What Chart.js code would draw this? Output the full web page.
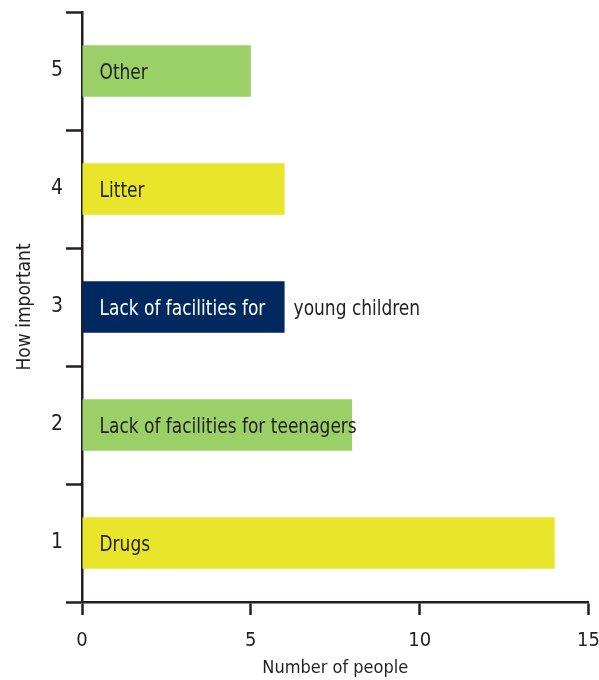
<!DOCTYPE html>
<html lang="en">
<head>
    <meta charset="UTF-8">
    <title>How important</title>
    <style>
        html, body { margin: 0; padding: 0; background: #fff; }
        .chart-box { width: 599px; height: 680px; }
    </style>
</head>
<body>

<div class="chart-box"><canvas id="importanceChart"></canvas></div>

<script src="https://cdn.jsdelivr.net/npm/chart.js"></script>
<script>
    // Ranking (5 = top) and number of people per issue
    const ranks = ['5', '4', '3', '2', '1'];
    const people = [5, 6, 6, 8, 14];
    // Text written on each bar; a second part is written just past the bar end
    const issueLabels = [
        ['Other'],
        ['Litter'],
        ['Lack of facilities for', 'young children'],
        ['Lack of facilities for teenagers'],
        ['Drugs']
    ];
    const xTicks = [0, 5, 10, 15];

    const FONT = '"DejaVu Sans Condensed", "Liberation Sans Narrow", "Arial Narrow", sans-serif';
    const INK = '#231f20';
    const barColors = ['#9bcf67', '#e9e52a', '#002a5f', '#9bcf67', '#e9e52a'];
    const labelColors = [INK, INK, '#ffffff', INK, INK];

    // narrow text: squeeze horizontally so the letters stay tall
    function narrowText(ctx, text, x, y) {
        ctx.save();
        ctx.translate(x, y);
        ctx.scale(0.86, 1);
        ctx.fillText(text, 0, 0);
        ctx.restore();
    }

    // writes the issue names onto the bars
    const barText = {
        id: 'barText',
        afterDatasetsDraw(chart) {
            const ctx = chart.ctx;
            const meta = chart.getDatasetMeta(0);
            ctx.save();
            ctx.font = '22px ' + FONT;
            ctx.textBaseline = 'middle';
            ctx.textAlign = 'left';
            meta.data.forEach((bar, i) => {
                const parts = issueLabels[i];
                ctx.fillStyle = labelColors[i];
                narrowText(ctx, parts[0], bar.base + 17, bar.y + 2);
                if (parts[1]) {
                    ctx.fillStyle = INK;
                    narrowText(ctx, parts[1], bar.x + 9, bar.y + 2);
                }
            });
            ctx.restore();
        }
    };

    new Chart(document.getElementById('importanceChart'), {
        type: 'bar',
        data: {
            labels: ranks,
            datasets: [{
                data: people,
                backgroundColor: barColors,
                borderWidth: 0,
                barPercentage: 0.435,
                categoryPercentage: 1
            }]
        },
        options: {
            indexAxis: 'y',
            responsive: true,
            maintainAspectRatio: false,
            animation: false,
            layout: { padding: { top: 12, right: 10.5, left: 14, bottom: 0 } },
            plugins: {
                legend: { display: false },
                tooltip: { enabled: false }
            },
            scales: {
                x: {
                    min: 0,
                    max: 15,
                    afterBuildTicks: (scale) => {
                        scale.ticks = xTicks.map(v => ({ value: v }));
                    },
                    afterFit: (scale) => {
                        scale.height = 78;
                        scale.paddingLeft = 0;
                        scale.paddingRight = 0;
                    },
                    border: { display: true, color: INK, width: 2.5 },
                    grid: {
                        drawOnChartArea: false,
                        drawTicks: true,
                        tickLength: 13,
                        tickWidth: 2.5,
                        tickColor: INK
                    },
                    ticks: {
                        color: INK,
                        font: { family: FONT, size: 20 },
                        padding: 14,
                        maxRotation: 0
                    },
                    title: {
                        display: true,
                        text: 'Number of people',
                        color: INK,
                        font: { family: FONT, size: 18 },
                        padding: { top: 0, bottom: 1 }
                    }
                },
                y: {
                    offset: true,
                    afterFit: (scale) => {
                        scale.width = 68;
                        scale.paddingTop = 0;
                        scale.paddingBottom = 0;
                    },
                    border: { display: true, color: INK, width: 2.5 },
                    grid: {
                        offset: true,
                        drawOnChartArea: false,
                        drawTicks: true,
                        tickLength: 16,
                        tickWidth: 2.5,
                        tickColor: INK
                    },
                    ticks: {
                        color: INK,
                        font: { family: FONT, size: 21 },
                        padding: 3
                    },
                    title: {
                        display: true,
                        text: 'How important',
                        color: INK,
                        font: { family: FONT, size: 19 },
                        padding: { top: 0, bottom: 0 }
                    }
                }
            }
        },
        plugins: [barText]
    });
</script>

</body>
</html>
